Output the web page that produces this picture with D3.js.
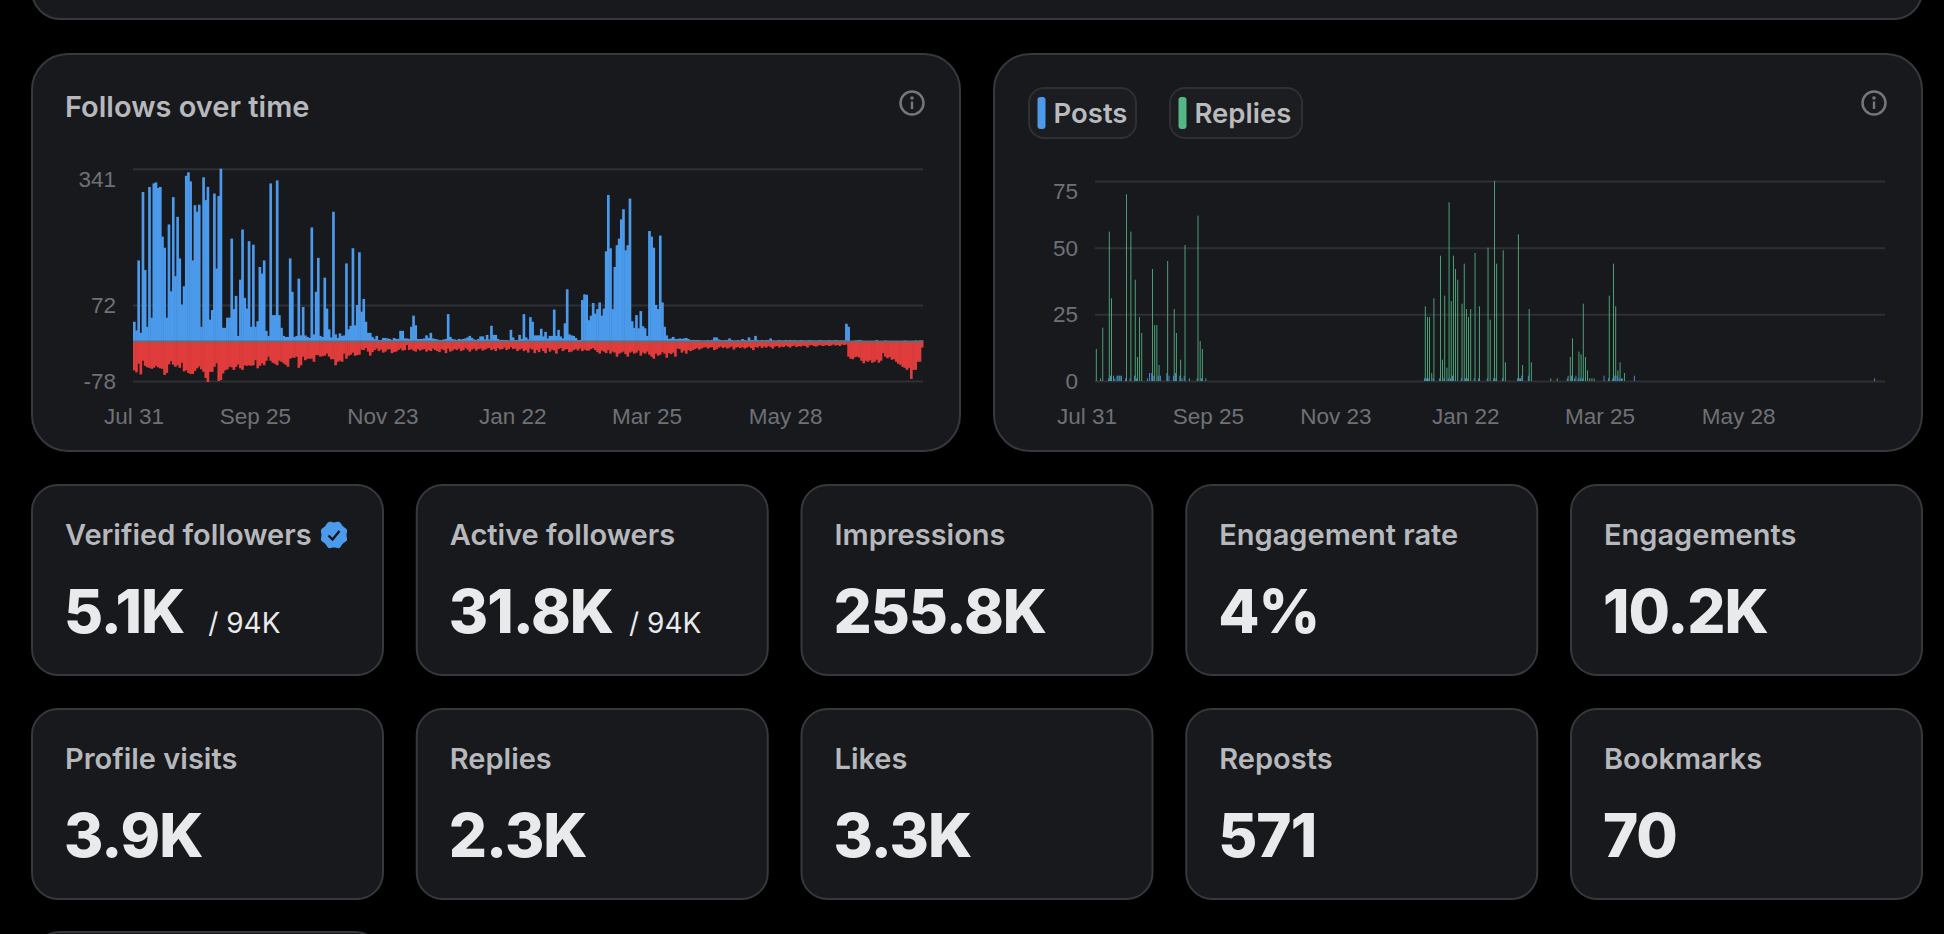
<!DOCTYPE html>
<html>
<head>
<meta charset="utf-8">
<script src="https://cdn.jsdelivr.net/npm/d3@7"></script>
<style>
  html, body { margin: 0; padding: 0; background: #000; overflow: hidden; }
  svg { display: block; font-family: Inter, "Noto Sans", sans-serif; }
  .card { fill: #18191d; stroke: #36383c; stroke-width: 2; }
  .grid line { stroke: #2e3034; stroke-width: 2; }
  .grid text, .x-axis text { fill: #6f7175; font-size: 22.5px; }
  .title { fill: #b6b8bc; font-size: 29px; font-weight: 600; }
  .stat-label { fill: #b6b8bc; font-size: 29px; font-weight: 600; }
  .stat-value { fill: #e9eaeb; font-size: 60px; font-weight: 800; letter-spacing: -1px; }
  .stat-total { fill: #e9eaeb; font-size: 28px; font-weight: 400; }
  .legend-text { fill: #b9bbbf; font-size: 27.5px; font-weight: 600; }
</style>
</head>
<body>
<svg id="chart" width="1944" height="934"></svg>
<script>
const dayCount = 365;
const tickDays = [0, 56, 115, 175, 237, 301];
const tickLabels = ['Jul 31', 'Sep 25', 'Nov 23', 'Jan 22', 'Mar 25', 'May 28'];

const followTicks = [341, 72, -78];
const activityTicks = [75, 50, 25, 0];

// new follows per day
const follows = [
  39, 22, 160, 17, 295, 141, 29, 305, 47, 312,
  314, 303, 305, 207, 185, 47, 231, 99, 285, 129,
  246, 164, 73, 109, 327, 334, 316, 160, 269, 256,
  270, 29, 324, 279, 305, 43, 62, 292, 144, 287,
  341, 27, 27, 47, 47, 203, 64, 90, 11, 122,
  221, 86, 65, 198, 29, 191, 29, 40, 147, 134,
  160, 21, 11, 312, 52, 52, 318, 52, 27, 11,
  9, 9, 164, 98, 9, 11, 124, 12, 68, 12,
  9, 7, 225, 14, 98, 165, 11, 9, 126, 65,
  24, 8, 256, 14, 7, 16, 11, 12, 154, 24,
  31, 184, 32, 72, 176, 59, 84, 39, 17, 17,
  9, 5, 11, 3, 3, 7, 7, 6, 5, 3,
  7, 5, 5, 21, 21, 6, 6, 5, 29, 51,
  32, 5, 5, 5, 6, 12, 7, 17, 6, 5,
  4, 3, 3, 4, 5, 54, 9, 5, 4, 3,
  5, 4, 5, 6, 8, 11, 7, 4, 3, 5,
  10, 10, 4, 13, 4, 31, 13, 13, 5, 3,
  3, 3, 3, 2, 23, 8, 3, 3, 13, 5,
  54, 8, 4, 48, 39, 12, 12, 12, 25, 10,
  19, 6, 11, 11, 63, 11, 23, 10, 6, 36,
  103, 14, 12, 11, 7, 3, 3, 82, 93, 92,
  42, 51, 76, 55, 64, 77, 51, 65, 178, 289,
  184, 64, 147, 190, 203, 241, 261, 180, 190, 282,
  40, 27, 52, 26, 60, 30, 26, 11, 218, 207,
  185, 72, 64, 209, 77, 29, 12, 5, 6, 9,
  5, 5, 6, 5, 6, 7, 5, 3, 3, 3,
  3, 3, 2, 2, 2, 3, 2, 3, 8, 8,
  4, 3, 2, 3, 3, 6, 3, 2, 2, 3,
  2, 5, 3, 2, 8, 3, 3, 11, 3, 2,
  3, 2, 3, 3, 6, 2, 2, 2, 3, 2,
  2, 3, 2, 3, 2, 3, 2, 2, 3, 2,
  2, 2, 3, 2, 2, 2, 2, 3, 2, 2,
  2, 3, 2, 2, 3, 2, 2, 2, 2, 35,
  29, 1, 1, 2, 2, 3, 2, 1, 1, 1,
  1, 1, 1, 3, 1, 1, 1, 2, 1, 1,
  1, 1, 1, 1, 1, 1, 2, 1, 1, 1,
  1, 2, 1, 2, 2,
];

// lost follows per day
const unfollows = [
  57, 61, 44, 65, 38, 48, 51, 52, 54, 52,
  48, 51, 53, 54, 66, 62, 45, 39, 46, 50,
  47, 52, 42, 59, 57, 62, 64, 64, 58, 53,
  49, 55, 60, 72, 80, 60, 60, 50, 43, 78,
  76, 63, 57, 55, 50, 51, 56, 50, 45, 53,
  56, 47, 48, 47, 48, 47, 37, 53, 48, 43,
  47, 38, 30, 38, 42, 44, 47, 38, 40, 43,
  46, 50, 34, 32, 32, 30, 52, 47, 30, 37,
  34, 34, 34, 40, 27, 27, 30, 29, 28, 24,
  30, 35, 35, 47, 40, 38, 40, 24, 34, 28,
  26, 22, 28, 27, 26, 16, 17, 13, 20, 28,
  21, 17, 14, 19, 16, 22, 20, 16, 15, 23,
  21, 20, 17, 14, 18, 17, 7, 17, 15, 18,
  20, 15, 18, 16, 15, 20, 17, 19, 14, 17,
  19, 21, 15, 17, 23, 14, 20, 18, 15, 17,
  14, 19, 17, 13, 16, 20, 16, 14, 18, 15,
  14, 18, 16, 14, 13, 17, 15, 19, 13, 16,
  15, 12, 17, 15, 11, 15, 14, 19, 16, 14,
  19, 17, 22, 14, 16, 23, 17, 21, 14, 19,
  23, 13, 20, 16, 18, 24, 15, 13, 19, 16,
  15, 21, 20, 17, 15, 18, 14, 19, 16, 18,
  18, 15, 13, 17, 21, 24, 18, 20, 23, 17,
  24, 20, 22, 30, 24, 22, 20, 25, 30, 22,
  20, 24, 22, 18, 28, 22, 24, 20, 26, 30,
  34, 24, 28, 26, 21, 24, 32, 23, 25, 22,
  30, 14, 15, 22, 18, 24, 17, 19, 17, 15,
  13, 16, 14, 12, 11, 14, 12, 11, 17, 15,
  12, 10, 13, 11, 14, 12, 10, 16, 12, 11,
  13, 11, 14, 12, 10, 13, 17, 11, 12, 9,
  13, 10, 12, 9, 11, 14, 10, 9, 12, 10,
  11, 8, 10, 12, 9, 8, 11, 9, 10, 8,
  9, 12, 8, 7, 9, 10, 8, 7, 9, 8,
  7, 9, 8, 6, 8, 7, 9, 6, 7, 6,
  30, 34, 35, 31, 30, 32, 38, 43, 38, 40,
  37, 42, 40, 36, 42, 38, 23, 30, 33, 31,
  36, 35, 40, 44, 46, 50, 52, 56, 52, 74,
  56, 56, 40, 40, 12,
];

const replyDays = [
  0, 2, 3, 6, 7, 8, 10, 11, 14, 16, 18, 19, 20, 21, 26, 27, 28, 29, 33, 36, 37, 39, 41, 43, 47, 48, 49,
  152, 153, 154, 155, 156, 159, 160, 161, 162, 163, 164, 165, 166, 167, 169, 170, 171, 172, 173, 175, 177,
  181, 182, 184, 185, 188, 189, 195, 196, 197, 200, 201,
  210, 213, 218, 219, 220, 221, 223, 224, 225, 226, 227, 228, 229, 230, 237, 239, 240, 241, 242, 243, 244,
];
const replyValues = [
  12, 1, 20, 56, 31, 2, 2, 2, 70, 56, 38, 9, 24, 18, 42, 21, 21, 6, 45, 27, 18, 8, 51, 1, 62, 15, 12,
  28, 24, 24, 3, 31, 47, 8, 32, 5, 67, 30, 47, 42, 38, 29, 44, 27, 24, 27, 48, 28,
  50, 23, 75, 44, 49, 7, 55, 1, 6, 27, 7,
  1, 1, 2, 9, 16, 1, 11, 10, 29, 9, 4, 1, 1, 1, 32, 44, 28, 4, 7, 1, 3,
];

const postDays = [
  6, 7, 9, 10, 11, 12, 14, 16, 18, 19, 24, 25, 26, 27, 29, 30, 33, 34, 36, 37, 39, 40, 41, 47, 49, 51,
  152, 153, 154, 156, 159, 161, 163, 164, 165, 169, 171, 172, 175, 177, 181, 184, 185, 188, 195, 196, 197, 200,
  218, 220, 222, 223, 224, 225, 235, 237, 239, 240, 241, 242, 243, 249, 360,
];
const postValues = [
  1, 2, 1, 2, 2, 2, 1, 1, 2, 1, 1, 3, 3, 2, 2, 2, 3, 2, 2, 3, 2, 1, 2, 1, 1, 1,
  1, 1, 1, 1, 1, 1, 1, 1, 2, 1, 1, 1, 1, 1, 1, 1, 1, 1, 1, 1, 2, 2,
  1, 2, 2, 1, 1, 1, 2, 1, 1, 2, 2, 1, 1, 2, 1,
];

const statLabels = ['Verified followers', 'Active followers', 'Impressions', 'Engagement rate', 'Engagements',
  'Profile visits', 'Replies', 'Likes', 'Reposts', 'Bookmarks'];
const statValues = ['5.1K', '31.8K', '255.8K', '4%', '10.2K', '3.9K', '2.3K', '3.3K', '571', '70'];
const statTotals = ['/ 94K', '/ 94K', '', '', '', '', '', '', '', ''];

const legendLabels = ['Posts', 'Replies'];

const colors = { blue: '#4b9aeb', red: '#e13c3c', green: '#54b884', zero: '#686b71' };

const svg = d3.select('#chart');

const days = d3.range(dayCount);

const addCard = (x, y, w, h, r) => svg.append('rect')
  .attr('class', 'card')
  .attr('x', x).attr('y', y)
  .attr('width', w).attr('height', h)
  .attr('rx', r).attr('ry', r);

const addInfoIcon = (cx, cy) => {
  const g = svg.append('g').attr('transform', `translate(${cx},${cy})`);
  g.append('circle').attr('r', 11.5).attr('fill', 'none').attr('stroke', '#74767b').attr('stroke-width', 2.5);
  g.append('circle').attr('cy', -5).attr('r', 1.8).attr('fill', '#74767b');
  g.append('rect').attr('x', -1.2).attr('y', -1.5).attr('width', 2.4).attr('height', 7.5).attr('fill', '#74767b');
};

const addAxes = (g, x, y, ticks, firstShift, labelShift) => {
  const width = x.range()[1] - x.range()[0];
  g.append('g')
    .attr('class', 'grid')
    .attr('transform', `translate(${x.range()[0]},0)`)
    .call(d3.axisLeft(y).tickValues(ticks).tickSize(-width).tickPadding(17).tickFormat(String))
    .call((a) => a.select('.domain').remove())
    .call((a) => a.selectAll('text').attr('dy', (d, i) => (i === 0 ? firstShift : 7.5)));

  g.append('g')
    .attr('class', 'x-axis')
    .attr('transform', `translate(${labelShift},381)`)
    .call(d3.axisBottom(x).tickValues(tickDays).tickFormat((d, i) => tickLabels[i]).tickSize(0).tickPadding(27))
    .call((a) => a.select('.domain').remove());
};

// page frame: cut off cards at the top and bottom edges
addCard(32, -60, 1890, 79, 28);
addCard(32, 932, 351, 120, 28);

/* follows over time */
addCard(32, 54, 928, 397, 36);
addInfoIcon(912, 103);
svg.append('text').attr('class', 'title').attr('x', 65).attr('y', 117).text('Follows over time');

const xFollows = d3.scaleBand().domain(days).range([133, 923]);
const yFollows = d3.scaleLinear().domain([-78, 341]).range([381, 168.7]);
const followsChart = svg.append('g');
addAxes(followsChart, xFollows, yFollows, followTicks, 18, 0);

followsChart.append('g').selectAll('rect').data(follows).join('rect')
  .attr('x', (d, i) => xFollows(i))
  .attr('y', (d) => yFollows(d))
  .attr('width', xFollows.bandwidth() + 0.5)
  .attr('height', (d) => yFollows(0) - yFollows(d))
  .attr('fill', colors.blue);

followsChart.append('g').selectAll('rect').data(unfollows).join('rect')
  .attr('x', (d, i) => xFollows(i))
  .attr('y', yFollows(0))
  .attr('width', xFollows.bandwidth() + 0.5)
  .attr('height', (d) => yFollows(-d) - yFollows(0))
  .attr('fill', colors.red);

followsChart.append('line')
  .attr('x1', xFollows.range()[0]).attr('x2', xFollows.range()[1])
  .attr('y1', yFollows(0)).attr('y2', yFollows(0))
  .attr('stroke', colors.zero).attr('stroke-width', 2);

/* posts and replies */
addCard(994, 54, 928, 397, 36);
addInfoIcon(1874, 103);

const legendX = [1029, 1170];
const legendW = [107, 132];
const legendColors = [colors.blue, colors.green];
legendLabels.forEach((label, i) => {
  svg.append('rect').attr('x', legendX[i]).attr('y', 88).attr('width', legendW[i]).attr('height', 50)
    .attr('rx', 15).attr('fill', '#1c1d21').attr('stroke', '#2e3034').attr('stroke-width', 2);
  svg.append('rect').attr('x', legendX[i] + 8.5).attr('y', 97).attr('width', 8).attr('height', 32)
    .attr('rx', 3).attr('fill', legendColors[i]);
  svg.append('text').attr('class', 'legend-text').attr('x', legendX[i] + 24.5).attr('y', 123).text(label);
});

const xActivity = d3.scaleBand().domain(days).range([1095, 1885]);
const xSeries = d3.scaleBand().domain(['posts', 'replies']).range([0, 1.7]);
const yActivity = d3.scaleLinear().domain([0, 75]).range([381, 181]);
const activityChart = svg.append('g');
addAxes(activityChart, xActivity, yActivity, activityTicks, 17, -9);

activityChart.append('g').selectAll('rect').data(replyValues).join('rect')
  .attr('x', (d, i) => xActivity(replyDays[i]) + xSeries('replies'))
  .attr('y', (d) => yActivity(d))
  .attr('width', xSeries.bandwidth())
  .attr('height', (d) => yActivity(0) - yActivity(d))
  .attr('fill', colors.green);

activityChart.append('g').selectAll('rect').data(postValues).join('rect')
  .attr('x', (d, i) => xActivity(postDays[i]) + xSeries('posts'))
  .attr('y', (d) => yActivity(d))
  .attr('width', xSeries.bandwidth())
  .attr('height', (d) => yActivity(0) - yActivity(d))
  .attr('fill', colors.blue);

/* stat cards */
const cardX = d3.scalePoint().domain(d3.range(5)).range([32, 1571]);
const cardY = d3.scalePoint().domain(d3.range(2)).range([485, 709]);
const totalGap = [24, 16];

statLabels.forEach((label, i) => {
  const x = cardX(i % 5);
  const y = cardY(Math.floor(i / 5));
  addCard(x, y, 351, 190, 26);
  svg.append('text').attr('class', 'stat-label').attr('x', x + 33).attr('y', y + 60).text(label);
  const value = svg.append('text').attr('class', 'stat-value').attr('x', x + 32).attr('y', y + 148).text(statValues[i]);
  if (statTotals[i]) {
    svg.append('text').attr('class', 'stat-total')
      .attr('x', x + 32 + value.node().getComputedTextLength() + totalGap[i])
      .attr('y', y + 148)
      .text(statTotals[i]);
  }
});

// verified badge next to the first label
const badge = svg.append('g').attr('transform', 'translate(334,535)');
badge.append('path')
  .attr('d', d3.lineRadial().curve(d3.curveCatmullRomClosed)
    .angle((d) => (d / 16) * 2 * Math.PI)
    .radius((d) => (d % 2 ? 14 : 12.5))(d3.range(16)))
  .attr('fill', colors.blue);
badge.append('path')
  .attr('d', 'M-5.5,0.5 L-1.5,4.5 L5.5,-4')
  .attr('fill', 'none').attr('stroke', '#12141a').attr('stroke-width', 2.4);
</script>
</body>
</html>
